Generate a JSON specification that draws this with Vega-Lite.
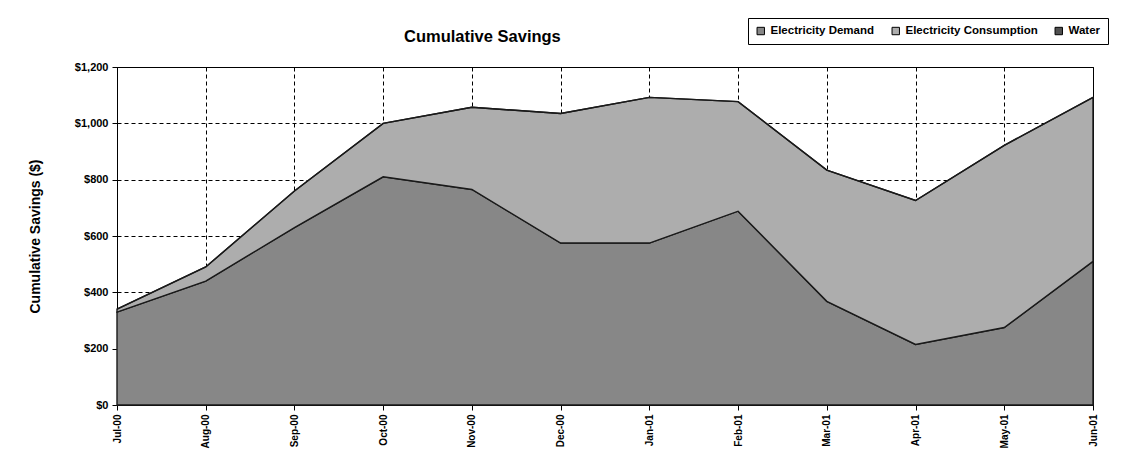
{
  "$schema": "https://vega.github.io/schema/vega-lite/v6.json",
  "width": 976,
  "height": 338,
  "autosize": {"type": "none"},
  "padding": {"left": 117, "top": 67, "right": 40, "bottom": 63},
  "background": "white",
  "title": {
    "text": "Cumulative Savings",
    "anchor": "start",
    "frame": "group",
    "dx": 287,
    "baseline": "bottom",
    "offset": -44,
    "font": "Liberation Sans",
    "fontSize": 16.5,
    "fontWeight": "bold",
    "color": "black"
  },
  "data": {
    "values": [
      {"month": "Jul-00", "series": "Electricity Demand", "k": 1, "savings": 330},
      {"month": "Aug-00", "series": "Electricity Demand", "k": 1, "savings": 440},
      {"month": "Sep-00", "series": "Electricity Demand", "k": 1, "savings": 630},
      {"month": "Oct-00", "series": "Electricity Demand", "k": 1, "savings": 810},
      {"month": "Nov-00", "series": "Electricity Demand", "k": 1, "savings": 765},
      {"month": "Dec-00", "series": "Electricity Demand", "k": 1, "savings": 575},
      {"month": "Jan-01", "series": "Electricity Demand", "k": 1, "savings": 575},
      {"month": "Feb-01", "series": "Electricity Demand", "k": 1, "savings": 688},
      {"month": "Mar-01", "series": "Electricity Demand", "k": 1, "savings": 368},
      {"month": "Apr-01", "series": "Electricity Demand", "k": 1, "savings": 215},
      {"month": "May-01", "series": "Electricity Demand", "k": 1, "savings": 275},
      {"month": "Jun-01", "series": "Electricity Demand", "k": 1, "savings": 510},
      {"month": "Jul-00", "series": "Electricity Consumption", "k": 2, "savings": 10},
      {"month": "Aug-00", "series": "Electricity Consumption", "k": 2, "savings": 50},
      {"month": "Sep-00", "series": "Electricity Consumption", "k": 2, "savings": 130},
      {"month": "Oct-00", "series": "Electricity Consumption", "k": 2, "savings": 190},
      {"month": "Nov-00", "series": "Electricity Consumption", "k": 2, "savings": 292},
      {"month": "Dec-00", "series": "Electricity Consumption", "k": 2, "savings": 460},
      {"month": "Jan-01", "series": "Electricity Consumption", "k": 2, "savings": 517},
      {"month": "Feb-01", "series": "Electricity Consumption", "k": 2, "savings": 389},
      {"month": "Mar-01", "series": "Electricity Consumption", "k": 2, "savings": 466},
      {"month": "Apr-01", "series": "Electricity Consumption", "k": 2, "savings": 511},
      {"month": "May-01", "series": "Electricity Consumption", "k": 2, "savings": 647},
      {"month": "Jun-01", "series": "Electricity Consumption", "k": 2, "savings": 582},
      {"month": "Jul-00", "series": "Water", "k": 3, "savings": 0},
      {"month": "Aug-00", "series": "Water", "k": 3, "savings": 0},
      {"month": "Sep-00", "series": "Water", "k": 3, "savings": 0},
      {"month": "Oct-00", "series": "Water", "k": 3, "savings": 0},
      {"month": "Nov-00", "series": "Water", "k": 3, "savings": 0},
      {"month": "Dec-00", "series": "Water", "k": 3, "savings": 0},
      {"month": "Jan-01", "series": "Water", "k": 3, "savings": 0},
      {"month": "Feb-01", "series": "Water", "k": 3, "savings": 0},
      {"month": "Mar-01", "series": "Water", "k": 3, "savings": 0},
      {"month": "Apr-01", "series": "Water", "k": 3, "savings": 0},
      {"month": "May-01", "series": "Water", "k": 3, "savings": 0},
      {"month": "Jun-01", "series": "Water", "k": 3, "savings": 0}
    ]
  },
  "mark": {"type": "area", "stroke": "#1a1a1a", "strokeWidth": 1.4, "opacity": 1},
  "encoding": {
    "x": {
      "field": "month",
      "type": "ordinal",
      "sort": ["Jul-00", "Aug-00", "Sep-00", "Oct-00", "Nov-00", "Dec-00", "Jan-01", "Feb-01", "Mar-01", "Apr-01", "May-01", "Jun-01"],
      "scale": {"type": "point", "padding": 0},
      "axis": {
        "title": null,
        "labelAngle": -90,
        "labelFont": "Liberation Sans",
        "labelFontSize": 10,
        "labelFontWeight": "bold",
        "labelColor": "black",
        "labelPadding": 4,
        "tickColor": "black",
        "tickSize": 5,
        "domainColor": "black",
        "grid": true,
        "gridColor": "black",
        "gridDash": [4, 3],
        "gridOpacity": 1,
        "gridWidth": 1
      }
    },
    "y": {
      "field": "savings",
      "type": "quantitative",
      "stack": "zero",
      "scale": {"domain": [0, 1200], "nice": false},
      "axis": {
        "values": [0, 200, 400, 600, 800, 1000, 1200],
        "format": "$,.0f",
        "title": "Cumulative Savings ($)",
        "titleFont": "Liberation Sans",
        "titleFontSize": 14,
        "titleFontWeight": "bold",
        "titleColor": "black",
        "titlePadding": 32,
        "labelFont": "Liberation Sans",
        "labelFontSize": 11,
        "labelFontWeight": "bold",
        "labelColor": "black",
        "labelPadding": 4,
        "tickColor": "black",
        "tickSize": 5,
        "domainColor": "black",
        "grid": true,
        "gridColor": "black",
        "gridDash": [4, 3],
        "gridOpacity": 1,
        "gridWidth": 1
      }
    },
    "color": {
      "field": "series",
      "type": "nominal",
      "scale": {
        "domain": ["Electricity Demand", "Electricity Consumption", "Water"],
        "range": ["#878787", "#adadad", "#505050"]
      },
      "legend": {
        "title": null,
        "orient": "none",
        "legendX": 631,
        "legendY": -49,
        "direction": "horizontal",
        "strokeColor": "black",
        "fillColor": "white",
        "padding": 7,
        "symbolType": "square",
        "symbolSize": 55,
        "symbolStrokeColor": "black",
        "symbolStrokeWidth": 1,
        "symbolOpacity": 1,
        "labelFont": "Liberation Sans",
        "labelFontSize": 11.5,
        "labelFontWeight": "bold",
        "labelColor": "black",
        "columnPadding": 15
      }
    },
    "order": {"field": "k", "type": "quantitative"}
  },
  "config": {
    "view": {"stroke": "black", "strokeWidth": 1},
    "font": "Liberation Sans"
  }
}
